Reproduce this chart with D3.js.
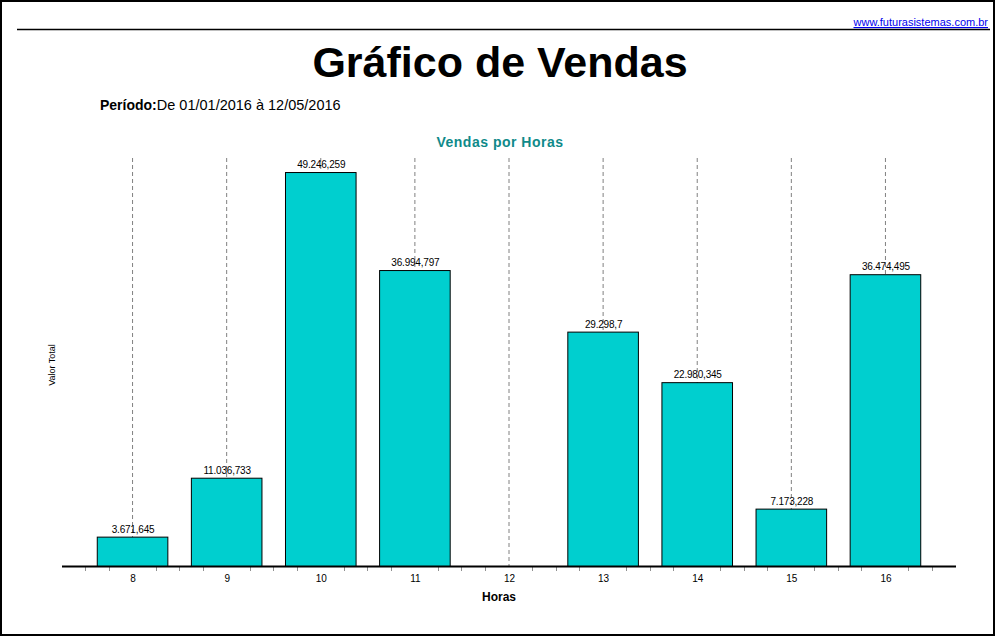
<!DOCTYPE html>
<html>
<head>
<meta charset="utf-8">
<script src="https://cdn.jsdelivr.net/npm/d3@7"></script>
<style>
  body { margin: 0; background: #fff; }
  svg { display: block; font-family: "Liberation Sans", Arial, sans-serif; }
</style>
</head>
<body>
<div id="chart"></div>
<script>
// dados do relatorio
const horas = ["8", "9", "10", "11", "12", "13", "14", "15", "16"];
const valores = [3671.645, 11036.733, 49246.259, 36994.797, 0, 29298.7, 22980.345, 7173.228, 36474.495];
const titulo = "Gráfico de Vendas";
const periodo = "De 01/01/2016 à 12/05/2016";

const width = 996, height = 637;
const baseY = 566;

const br = d3.formatLocale({ decimal: ",", thousands: ".", grouping: [3], currency: ["R$", ""] });
const fmt = br.format(",.3~f");

const svg = d3.select("#chart").append("svg")
    .attr("width", width)
    .attr("height", height);

// moldura
svg.append("rect")
    .attr("x", 1).attr("y", 1)
    .attr("width", width - 3).attr("height", height - 3)
    .attr("fill", "none").attr("stroke", "#000").attr("stroke-width", 2);

svg.append("line")
    .attr("x1", 17).attr("x2", 990).attr("y1", 29.5).attr("y2", 29.5)
    .attr("stroke", "#000").attr("stroke-width", 1.5);

svg.append("text")
    .attr("x", 988).attr("y", 26)
    .attr("text-anchor", "end")
    .style("font-size", "11px")
    .style("fill", "#0000ee")
    .style("text-decoration", "underline")
    .text("www.futurasistemas.com.br");

svg.append("text")
    .attr("x", 500).attr("y", 77)
    .attr("text-anchor", "middle")
    .style("font-size", "43px").style("font-weight", "bold")
    .text(titulo);

const per = svg.append("text")
    .attr("x", 100).attr("y", 110)
    .style("font-size", "14px");
per.append("tspan").style("font-weight", "bold").text("Período:");
per.append("tspan").style("font-size", "14.5px").text(periodo);

svg.append("text")
    .attr("x", 500).attr("y", 147)
    .attr("text-anchor", "middle")
    .style("font-size", "14px").style("font-weight", "bold")
    .style("fill", "#0f8a8a")
    .style("letter-spacing", "0.5px")
    .text("Vendas por Horas");

const x = d3.scaleBand()
    .domain(horas)
    .range([85, 932])
    .paddingInner(0.25)
    .paddingOuter(0.125);

const y = d3.scaleLinear()
    .domain([0, 51000])
    .range([baseY, 158]);

const cx = d => x(d) + x.bandwidth() / 2;
const step = x.step();

// linhas de grade tracejadas
svg.append("g")
  .selectAll("line")
    .data(horas)
  .enter().append("line")
    .attr("x1", d => cx(d) + 0.5).attr("x2", d => cx(d) + 0.5)
    .attr("y1", 158).attr("y2", baseY)
    .attr("stroke", "#808080")
    .attr("stroke-dasharray", "4,3");

// barras
const dados = horas.map((h, i) => ({ hora: h, valor: valores[i] }));

svg.append("g")
  .selectAll("rect")
    .data(dados.filter(d => d.valor > 0))
  .enter().append("rect")
    .attr("x", d => x(d.hora) + 0.5)
    .attr("y", d => y(d.valor) + 0.5)
    .attr("width", x.bandwidth())
    .attr("height", d => baseY - y(d.valor))
    .attr("fill", "#00cfcf")
    .attr("stroke", "#000")
    .attr("stroke-width", 1);

svg.append("g")
  .selectAll("text")
    .data(dados.filter(d => d.valor > 0))
  .enter().append("text")
    .attr("x", d => cx(d.hora) + 1)
    .attr("y", d => y(d.valor) - 4)
    .attr("text-anchor", "middle")
    .style("font-size", "10px")
    .style("letter-spacing", "-0.2px")
    .text(d => fmt(d.valor));

// eixo x
const ticks = [];
horas.forEach(h => {
  [-0.5, -0.25, 0.25, 0.5].forEach(f => ticks.push(cx(h) + f * step));
});

svg.append("g")
  .selectAll("line")
    .data(ticks)
  .enter().append("line")
    .attr("x1", d => Math.round(d) + 0.5).attr("x2", d => Math.round(d) + 0.5)
    .attr("y1", baseY).attr("y2", baseY + 5)
    .attr("stroke", "#909090");

svg.append("line")
    .attr("x1", 62).attr("x2", 956)
    .attr("y1", baseY + 0.5).attr("y2", baseY + 0.5)
    .attr("stroke", "#000").attr("stroke-width", 2);

const xAxis = d3.axisBottom(x).tickSize(0).tickPadding(9);
svg.append("g")
    .attr("transform", `translate(1,${baseY})`)
    .call(xAxis)
    .call(g => g.select(".domain").remove())
    .call(g => g.selectAll("text")
        .style("font-size", "10px")
        .style("font-family", "'Liberation Sans', Arial, sans-serif"));

svg.append("text")
    .attr("x", 499).attr("y", 601)
    .attr("text-anchor", "middle")
    .style("font-size", "12px").style("font-weight", "bold")
    .text("Horas");

svg.append("text")
    .attr("transform", "translate(55,365) rotate(-90)")
    .attr("text-anchor", "middle")
    .style("font-size", "9px")
    .text("Valor Total");
</script>
</body>
</html>
